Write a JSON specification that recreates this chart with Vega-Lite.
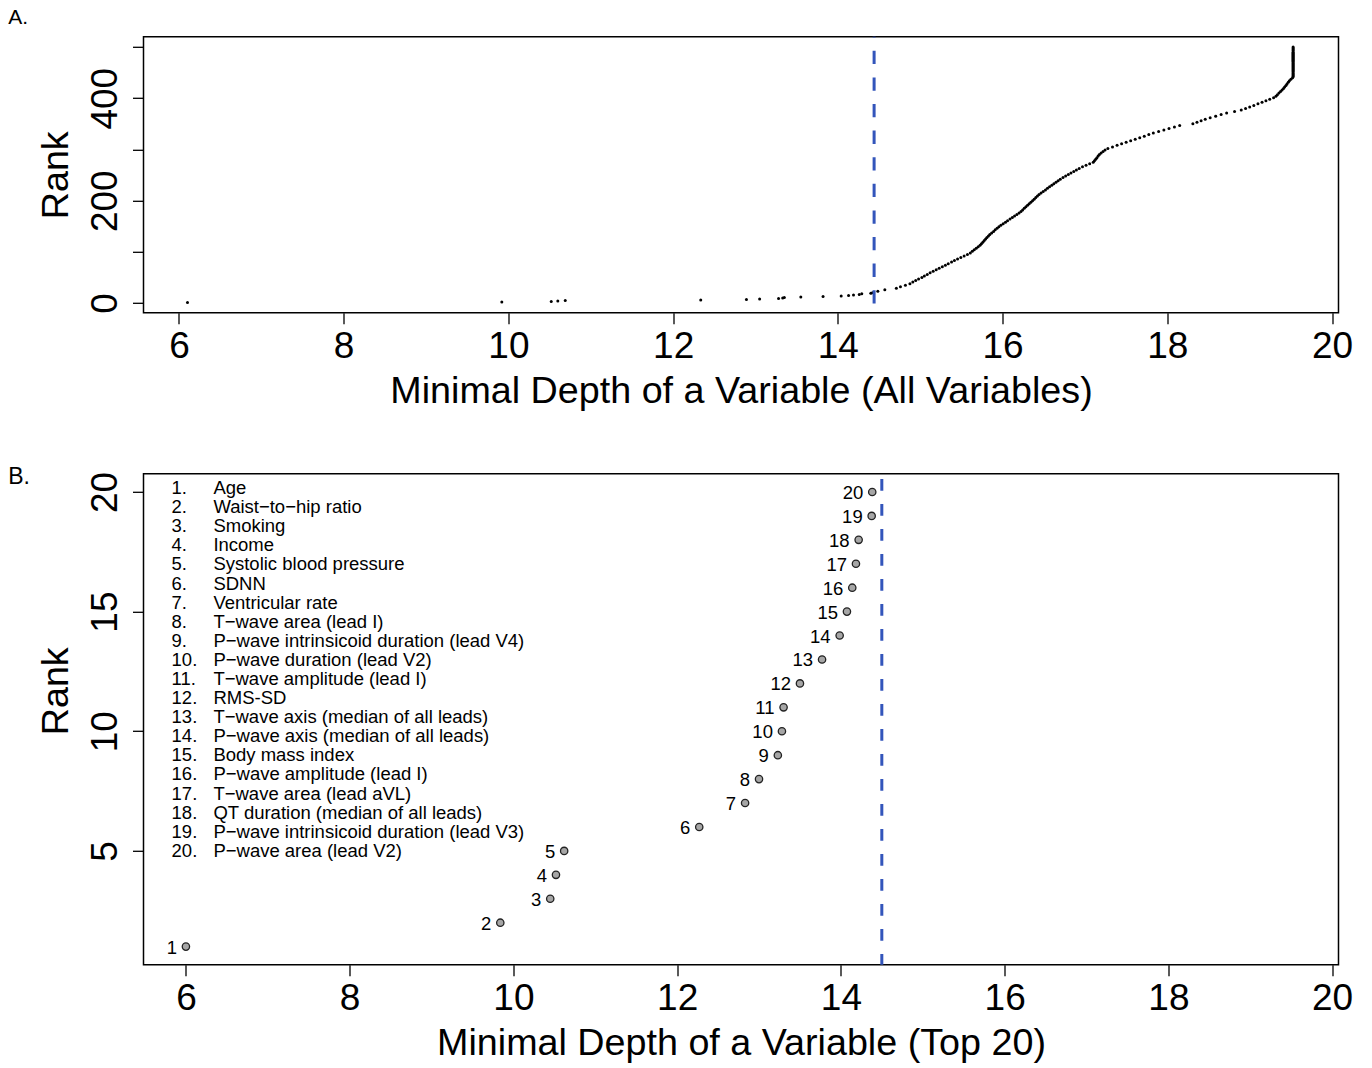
{
  "$schema": "https://vega.github.io/schema/vega-lite/v6.json",
  "background": "white",
  "padding": {"left": 6.5, "top": 5.8, "right": 5, "bottom": 5},
  "spacing": 161,
  "bounds": "flush",
  "config": {
    "font": "Liberation Sans",
    "view": {"stroke": "black", "strokeWidth": 1.5},
    "axis": {"domain": false, "grid": false, "ticks": true, "tickColor": "black", "tickWidth": 1.3, "tickSize": 11, "labelFont": "Liberation Sans", "labelFontSize": 37, "labelColor": "black", "titleFont": "Liberation Sans", "titleFontSize": 37.7, "titleFontWeight": "normal", "titleColor": "black"},
    "axisX": {"labelPadding": 4.5, "titlePadding": 8.2, "labelAngle": 0, "labelAlign": "center", "labelBaseline": "top", "labelOverlap": false, "format": "d"},
    "axisY": {"labelAngle": 270, "labelAlign": "center", "labelBaseline": "bottom", "labelPadding": 7.8, "titlePadding": 11.3, "labelOverlap": false, "format": "d"},
    "title": {"anchor": "start", "frame": "group", "fontSize": 21, "fontWeight": "normal", "font": "Liberation Sans", "color": "black", "baseline": "alphabetic", "dx": -135.3}
  },
  "vconcat": [
    {
      "title": {"text": "A.", "offset": 7.4},
      "width": 1195,
      "height": 276,
      "layer": [
        {
          "data": {"values": [
            {"d": 6.104, "r": 1}, {"d": 9.92, "r": 2}, {"d": 10.52, "r": 3}, {"d": 10.6, "r": 4}, {"d": 10.69, "r": 5},
            {"d": 12.335, "r": 6}, {"d": 12.89, "r": 7}, {"d": 13.05, "r": 8}, {"d": 13.28, "r": 9}, {"d": 13.33, "r": 10},
            {"d": 13.35, "r": 11}, {"d": 13.55, "r": 12}, {"d": 13.82, "r": 13}, {"d": 14.04, "r": 14}, {"d": 14.13, "r": 15},
            {"d": 14.19, "r": 16}, {"d": 14.26, "r": 17}, {"d": 14.29, "r": 18}, {"d": 14.4, "r": 19}, {"d": 14.42, "r": 20},
            {"d": 14.485, "r": 23}, {"d": 14.57, "r": 26}, {"d": 14.71, "r": 29}, {"d": 14.76, "r": 32}, {"d": 14.82, "r": 35},
            {"d": 14.875, "r": 38}, {"d": 14.91, "r": 41}, {"d": 14.945, "r": 44}, {"d": 14.98, "r": 47}, {"d": 15.02, "r": 50},
            {"d": 15.05, "r": 53}, {"d": 15.085, "r": 56}, {"d": 15.12, "r": 59}, {"d": 15.157, "r": 62}, {"d": 15.194, "r": 65},
            {"d": 15.23, "r": 68}, {"d": 15.268, "r": 71}, {"d": 15.305, "r": 74}, {"d": 15.34, "r": 77}, {"d": 15.38, "r": 80},
            {"d": 15.415, "r": 83}, {"d": 15.453, "r": 86}, {"d": 15.493, "r": 89}, {"d": 15.533, "r": 92}, {"d": 15.573, "r": 95},
            {"d": 15.608, "r": 98}, {"d": 15.632, "r": 101}, {"d": 15.656, "r": 104}, {"d": 15.68, "r": 107}, {"d": 15.704, "r": 110},
            {"d": 15.726, "r": 113}, {"d": 15.743, "r": 116}, {"d": 15.76, "r": 119}, {"d": 15.777, "r": 122}, {"d": 15.794, "r": 125},
            {"d": 15.81, "r": 128}, {"d": 15.828, "r": 131}, {"d": 15.845, "r": 134}, {"d": 15.867, "r": 137}, {"d": 15.89, "r": 140},
            {"d": 15.91, "r": 143}, {"d": 15.933, "r": 146}, {"d": 15.955, "r": 149}, {"d": 15.979, "r": 152}, {"d": 16.007, "r": 155},
            {"d": 16.035, "r": 158}, {"d": 16.06, "r": 161}, {"d": 16.09, "r": 164}, {"d": 16.118, "r": 167}, {"d": 16.145, "r": 170},
            {"d": 16.173, "r": 173}, {"d": 16.2, "r": 176}, {"d": 16.223, "r": 179}, {"d": 16.243, "r": 182}, {"d": 16.263, "r": 185},
            {"d": 16.283, "r": 188}, {"d": 16.303, "r": 191}, {"d": 16.323, "r": 194}, {"d": 16.343, "r": 197}, {"d": 16.363, "r": 200},
            {"d": 16.383, "r": 203}, {"d": 16.403, "r": 206}, {"d": 16.423, "r": 209}, {"d": 16.443, "r": 212}, {"d": 16.467, "r": 215},
            {"d": 16.493, "r": 218}, {"d": 16.52, "r": 221}, {"d": 16.545, "r": 224}, {"d": 16.57, "r": 227}, {"d": 16.597, "r": 230},
            {"d": 16.622, "r": 233}, {"d": 16.648, "r": 236}, {"d": 16.674, "r": 239}, {"d": 16.7, "r": 242}, {"d": 16.733, "r": 245},
            {"d": 16.765, "r": 248}, {"d": 16.798, "r": 251}, {"d": 16.83, "r": 254}, {"d": 16.864, "r": 257}, {"d": 16.896, "r": 260},
            {"d": 16.93, "r": 263}, {"d": 16.97, "r": 266}, {"d": 17.013, "r": 269}, {"d": 17.057, "r": 272}, {"d": 17.1, "r": 275},
            {"d": 17.115, "r": 278}, {"d": 17.13, "r": 281}, {"d": 17.145, "r": 284}, {"d": 17.16, "r": 287}, {"d": 17.175, "r": 290},
            {"d": 17.196, "r": 293}, {"d": 17.22, "r": 296}, {"d": 17.244, "r": 299}, {"d": 17.278, "r": 302}, {"d": 17.334, "r": 305},
            {"d": 17.39, "r": 308}, {"d": 17.445, "r": 311}, {"d": 17.5, "r": 314}, {"d": 17.555, "r": 317}, {"d": 17.61, "r": 320},
            {"d": 17.665, "r": 323}, {"d": 17.72, "r": 326}, {"d": 17.775, "r": 329}, {"d": 17.83, "r": 332}, {"d": 17.894, "r": 335},
            {"d": 17.958, "r": 338}, {"d": 18.02, "r": 341}, {"d": 18.086, "r": 344}, {"d": 18.15, "r": 347}, {"d": 18.31, "r": 350},
            {"d": 18.36, "r": 353}, {"d": 18.41, "r": 356}, {"d": 18.46, "r": 359}, {"d": 18.52, "r": 362}, {"d": 18.587, "r": 365},
            {"d": 18.653, "r": 368}, {"d": 18.72, "r": 371}, {"d": 18.816, "r": 374}, {"d": 18.897, "r": 377}, {"d": 18.95, "r": 380},
            {"d": 19.0, "r": 383}, {"d": 19.05, "r": 386}, {"d": 19.1, "r": 389}, {"d": 19.15, "r": 392}, {"d": 19.197, "r": 395},
            {"d": 19.243, "r": 398}, {"d": 19.29, "r": 401}, {"d": 19.318, "r": 404}, {"d": 19.336, "r": 407}, {"d": 19.355, "r": 410},
            {"d": 19.374, "r": 413}, {"d": 19.393, "r": 416}, {"d": 19.41, "r": 419}, {"d": 19.424, "r": 422}, {"d": 19.44, "r": 425},
            {"d": 19.453, "r": 428}, {"d": 19.468, "r": 431}, {"d": 19.482, "r": 434}, {"d": 19.5, "r": 437}, {"d": 19.52, "r": 440},
            {"d": 19.527, "r": 442}, {"d": 19.527, "r": 444}, {"d": 19.527, "r": 446}, {"d": 19.527, "r": 448}, {"d": 19.527, "r": 450},
            {"d": 19.527, "r": 452}, {"d": 19.527, "r": 454}, {"d": 19.527, "r": 456}, {"d": 19.527, "r": 458}, {"d": 19.527, "r": 460},
            {"d": 19.527, "r": 462}, {"d": 19.527, "r": 464}, {"d": 19.527, "r": 466}, {"d": 19.527, "r": 468}, {"d": 19.527, "r": 470},
            {"d": 19.527, "r": 472}, {"d": 19.527, "r": 474}, {"d": 19.527, "r": 476}, {"d": 19.527, "r": 478}, {"d": 19.527, "r": 480},
            {"d": 19.527, "r": 482}, {"d": 19.527, "r": 484}, {"d": 19.527, "r": 486}, {"d": 19.527, "r": 488}, {"d": 19.527, "r": 490},
            {"d": 19.527, "r": 492}, {"d": 19.527, "r": 494}, {"d": 19.527, "r": 496}, {"d": 19.527, "r": 498}, {"d": 19.527, "r": 500}
          ]},
          "mark": {"type": "circle", "size": 9, "color": "black", "opacity": 1},
          "encoding": {
            "x": {"field": "d", "type": "quantitative", "scale": {"domain": [5.57, 20.078], "nice": false, "zero": false}, "axis": {"values": [6, 8, 10, 12, 14, 16, 18, 20], "title": "Minimal Depth of a Variable (All Variables)"}},
            "y": {"field": "r", "type": "quantitative", "scale": {"domain": [-18.96, 519.96], "nice": false, "zero": false}, "axis": {"values": [0, 100, 200, 300, 400, 500], "labelExpr": "datum.value % 200 === 0 ? datum.label : ''", "title": "Rank"}}
          }
        },
        {
          "data": {"values": [{"t": 14.44}]},
          "mark": {"type": "rule", "color": "#3355bb", "strokeWidth": 3, "strokeDash": [13.3, 13.3], "strokeDashOffset": 12.6},
          "encoding": {"x": {"field": "t", "type": "quantitative", "scale": {"domain": [5.57, 20.078], "nice": false, "zero": false}}}
        }
      ]
    },
    {
      "title": {"text": "B.", "offset": -18, "fontSize": 23},
      "width": 1195,
      "height": 491,
      "resolve": {"scale": {"y": "independent"}},
      "layer": [
        {
          "layer": [
            {
              "data": {"values": [
                {"d": 6.0, "r": 1}, {"d": 9.84, "r": 2}, {"d": 10.45, "r": 3}, {"d": 10.52, "r": 4}, {"d": 10.62, "r": 5},
                {"d": 12.27, "r": 6}, {"d": 12.83, "r": 7}, {"d": 13.0, "r": 8}, {"d": 13.23, "r": 9}, {"d": 13.28, "r": 10},
                {"d": 13.3, "r": 11}, {"d": 13.5, "r": 12}, {"d": 13.77, "r": 13}, {"d": 13.985, "r": 14}, {"d": 14.074, "r": 15},
                {"d": 14.139, "r": 16}, {"d": 14.184, "r": 17}, {"d": 14.217, "r": 18}, {"d": 14.376, "r": 19}, {"d": 14.383, "r": 20}
              ]},
              "layer": [
                {
                  "mark": {"type": "point", "shape": "circle", "filled": true, "size": 54, "fill": "#a6a6a6", "stroke": "#222222", "strokeWidth": 1.3, "opacity": 1},
                  "encoding": {
                    "x": {"field": "d", "type": "quantitative", "scale": {"domain": [5.482, 20.078], "nice": false, "zero": false}, "axis": {"values": [6, 8, 10, 12, 14, 16, 18, 20], "title": "Minimal Depth of a Variable (Top 20)"}},
                    "y": {"field": "r", "type": "quantitative", "scale": {"domain": [0.24, 20.76], "nice": false, "zero": false}, "axis": {"values": [5, 10, 15, 20], "title": "Rank", "titleY": 217}}
                  }
                },
                {
                  "mark": {"type": "text", "align": "right", "baseline": "middle", "dx": -9, "dy": 1, "fontSize": 18.5, "font": "Liberation Sans", "color": "black"},
                  "encoding": {
                    "x": {"field": "d", "type": "quantitative", "scale": {"domain": [5.482, 20.078], "nice": false, "zero": false}},
                    "y": {"field": "r", "type": "quantitative", "scale": {"domain": [0.24, 20.76], "nice": false, "zero": false}},
                    "text": {"field": "r", "type": "quantitative"}
                  }
                }
              ]
            },
            {
              "data": {"values": [{"t": 14.5}]},
              "mark": {"type": "rule", "color": "#3355bb", "strokeWidth": 3, "strokeDash": [11.7, 13.3], "strokeDashOffset": 19.7},
              "encoding": {"x": {"field": "t", "type": "quantitative", "scale": {"domain": [5.482, 20.078], "nice": false, "zero": false}}}
            }
          ]
        },
        {
          "data": {"values": [
            {"item": 1, "name": "Age"},
            {"item": 2, "name": "Waist−to−hip ratio"},
            {"item": 3, "name": "Smoking"},
            {"item": 4, "name": "Income"},
            {"item": 5, "name": "Systolic blood pressure"},
            {"item": 6, "name": "SDNN"},
            {"item": 7, "name": "Ventricular rate"},
            {"item": 8, "name": "T−wave area (lead I)"},
            {"item": 9, "name": "P−wave intrinsicoid duration (lead V4)"},
            {"item": 10, "name": "P−wave duration (lead V2)"},
            {"item": 11, "name": "T−wave amplitude (lead I)"},
            {"item": 12, "name": "RMS-SD"},
            {"item": 13, "name": "T−wave axis (median of all leads)"},
            {"item": 14, "name": "P−wave axis (median of all leads)"},
            {"item": 15, "name": "Body mass index"},
            {"item": 16, "name": "P−wave amplitude (lead I)"},
            {"item": 17, "name": "T−wave area (lead aVL)"},
            {"item": 18, "name": "QT duration (median of all leads)"},
            {"item": 19, "name": "P−wave intrinsicoid duration (lead V3)"},
            {"item": 20, "name": "P−wave area (lead V2)"}
          ]},
          "transform": [{"calculate": "datum.item + '.'", "as": "num"}],
          "layer": [
            {
              "mark": {"type": "text", "align": "left", "baseline": "middle", "fontSize": 18.5, "font": "Liberation Sans", "color": "black"},
              "encoding": {
                "x": {"datum": 5.825, "type": "quantitative", "scale": {"domain": [5.482, 20.078], "nice": false, "zero": false}},
                "y": {"field": "item", "type": "quantitative", "scale": {"domain": [0.251, 25.97], "reverse": true, "nice": false, "zero": false}, "axis": null},
                "text": {"field": "num", "type": "nominal"}
              }
            },
            {
              "mark": {"type": "text", "align": "left", "baseline": "middle", "fontSize": 18.5, "font": "Liberation Sans", "color": "black"},
              "encoding": {
                "x": {"datum": 6.336, "type": "quantitative", "scale": {"domain": [5.482, 20.078], "nice": false, "zero": false}},
                "y": {"field": "item", "type": "quantitative", "scale": {"domain": [0.251, 25.97], "reverse": true, "nice": false, "zero": false}, "axis": null},
                "text": {"field": "name", "type": "nominal"}
              }
            }
          ]
        }
      ]
    }
  ]
}
